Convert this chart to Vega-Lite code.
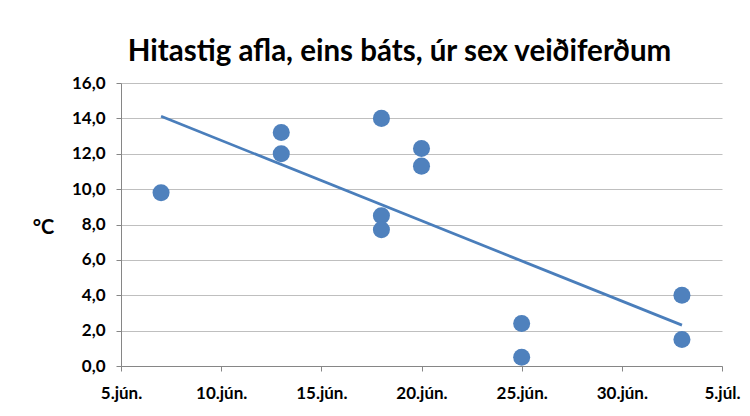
{
  "$schema": "https://vega.github.io/schema/vega-lite/v6.json",
  "width": 601,
  "height": 283,
  "autosize": "none",
  "padding": {"left": 121, "top": 83, "right": 28, "bottom": 50},
  "background": "white",
  "title": {
    "text": "Hitastig afla, eins báts, úr sex veiðiferðum",
    "font": "Lato",
    "fontSize": 29.5,
    "fontWeight": "bold",
    "color": "black",
    "anchor": "middle",
    "baseline": "alphabetic",
    "offset": 15,
    "dx": -22,
    "dy": 31
  },
  "data": {
    "values": [
      {"date": "2013-06-07", "temp": 9.8},
      {"date": "2013-06-13", "temp": 13.2},
      {"date": "2013-06-13", "temp": 12.0},
      {"date": "2013-06-18", "temp": 14.0},
      {"date": "2013-06-18", "temp": 8.5},
      {"date": "2013-06-18", "temp": 7.7},
      {"date": "2013-06-20", "temp": 12.3},
      {"date": "2013-06-20", "temp": 11.3},
      {"date": "2013-06-25", "temp": 2.4},
      {"date": "2013-06-25", "temp": 0.5},
      {"date": "2013-07-03", "temp": 4.0},
      {"date": "2013-07-03", "temp": 1.5}
    ]
  },
  "encoding": {
    "x": {
      "field": "date",
      "type": "temporal",
      "scale": {
        "type": "utc",
        "domain": [
          {"year": 2013, "month": 6, "date": 5, "utc": true},
          {"year": 2013, "month": 7, "date": 5, "utc": true}
        ]
      },
      "axis": {
        "title": null,
        "grid": false,
        "values": [
          {"year": 2013, "month": 6, "date": 5, "utc": true},
          {"year": 2013, "month": 6, "date": 10, "utc": true},
          {"year": 2013, "month": 6, "date": 15, "utc": true},
          {"year": 2013, "month": 6, "date": 20, "utc": true},
          {"year": 2013, "month": 6, "date": 25, "utc": true},
          {"year": 2013, "month": 6, "date": 30, "utc": true},
          {"year": 2013, "month": 7, "date": 5, "utc": true}
        ],
        "labelExpr": "utcdate(datum.value) + '.' + (utcmonth(datum.value) == 5 ? 'jún.' : 'júl.')",
        "labelFont": "Lato",
        "labelFontSize": 17,
        "labelFontWeight": "bold",
        "labelColor": "black",
        "labelPadding": 14,
        "labelFlush": false,
        "labelOverlap": false,
        "tickSize": 5,
        "tickColor": "#868686",
        "domainColor": "#868686"
      }
    },
    "y": {
      "field": "temp",
      "type": "quantitative",
      "scale": {"domain": [0, 16], "nice": false},
      "axis": {
        "title": "°C",
        "titleAngle": 0,
        "titleFont": "Lato",
        "titleFontSize": 20,
        "titleFontWeight": "bold",
        "titleColor": "black",
        "titleAlign": "center",
        "titleBaseline": "middle",
        "titleX": -78,
        "titleY": 144,
        "values": [0, 2, 4, 6, 8, 10, 12, 14, 16],
        "labelExpr": "replace(format(datum.value, '.1f'), '.', ',')",
        "labelFont": "Lato",
        "labelFontSize": 17,
        "labelFontWeight": "bold",
        "labelColor": "black",
        "labelPadding": 11,
        "tickSize": 5,
        "tickColor": "#868686",
        "domainColor": "#868686",
        "gridColor": "#BFBFBF",
        "gridWidth": 1
      }
    }
  },
  "layer": [
    {
      "mark": {"type": "circle", "size": 290, "color": "#4F81BD", "opacity": 1}
    },
    {
      "transform": [{"regression": "temp", "on": "date"}],
      "mark": {"type": "line", "color": "#4A7EBB", "strokeWidth": 2.75}
    }
  ],
  "config": {"view": {"stroke": null}}
}
